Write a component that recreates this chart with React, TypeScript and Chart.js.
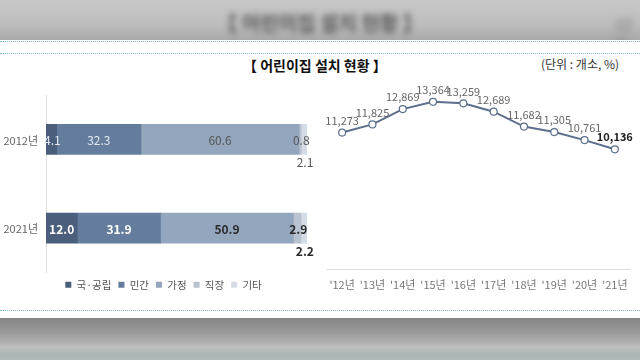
import React, { useEffect, useRef } from "react";
import { Chart, registerables } from "chart.js";

Chart.register(...registerables);

const FONT = "'Noto Sans CJK KR', 'Noto Sans', sans-serif";

// Left: share by type (%)
const barCategories = ["2012년", "2021년"];
const seriesNames = ["국·공립", "민간", "가정", "직장", "기타"];
const publicShare = [4.1, 12.0];
const privateShare = [32.3, 31.9];
const homeShare = [60.6, 50.9];
const workplaceShare = [0.8, 2.9];
const otherShare = [2.1, 2.2];
const seriesColors = ["#4b5f7c", "#647d9c", "#94a6bd", "#b8c2d1", "#d6dce6"];

// Right: number of centers
const yearLabels = ["'12년", "'13년", "'14년", "'15년", "'16년", "'17년", "'18년", "'19년", "'20년", "'21년"];
const centerCounts = [11273, 11825, 12869, 13364, 13259, 12689, 11682, 11305, 10761, 10136];

const fmt = (v: number) => v.toLocaleString("en-US");

function BarChart() {
  const ref = useRef<HTMLCanvasElement>(null);
  useEffect(() => {
    const shares = [publicShare, privateShare, homeShare, workplaceShare, otherShare];
    const labelPlugin = {
      id: "barLabels",
      afterDatasetsDraw(chart: any) {
        const ctx = chart.ctx;
        ctx.save();
        ctx.textAlign = "center";
        ctx.textBaseline = "middle";
        chart.data.datasets.forEach((ds: any, di: number) => {
          const meta = chart.getDatasetMeta(di);
          meta.data.forEach((bar: any, i: number) => {
            const v = ds.data[i] as number;
            const bold = i === 1;
            ctx.font = `${bold ? "bold " : ""}12px ${FONT}`;
            let color: string;
            if (di <= 1) color = bold ? "#ffffff" : "#e4e9f0";
            else color = bold ? "#2b2b2b" : "#555555";
            ctx.fillStyle = color;
            const cx = (bar.x + bar.base) / 2;
            if (di === 4) {
              ctx.fillText(v.toFixed(1), cx + 1, bar.y + bar.height / 2 + 8);
            } else {
              ctx.fillText(v.toFixed(1), cx + (di === 3 ? 1 : 0) + (di === 0 && !bold ? 1 : 0), bar.y + 1);
            }
          });
        });
        // category labels, placed through the y scale
        const yScale = chart.scales.y;
        ctx.textAlign = "right";
        ctx.font = `11px ${FONT}`;
        ctx.fillStyle = "#666666";
        chart.data.labels.forEach((lab: string, i: number) => {
          ctx.fillText(lab, chart.chartArea.left - 8, yScale.getPixelForValue(i) + 1);
        });
        ctx.restore();
      },
    };
    const chart = new Chart(ref.current!, {
      type: "bar",
      data: {
        labels: barCategories,
        datasets: seriesNames.map((name, k) => ({
          label: name,
          data: shares[k],
          backgroundColor: seriesColors[k],
          borderWidth: 0,
          barThickness: 30,
        })),
      },
      options: {
        indexAxis: "y",
        responsive: false,
        animation: false,
        devicePixelRatio: 1,
        layout: { padding: { top: 15, right: 19, bottom: 0, left: 20 } },
        scales: {
          x: { stacked: true, min: 0, max: 100, display: false },
          y: {
            stacked: true,
            grid: { display: false, drawTicks: false },
            border: { display: true, color: "#dddddd", width: 1 },
            ticks: { display: false },
            afterFit: (s: any) => { s.width = 26; },
          },
        },
        plugins: {
          legend: {
            position: "bottom",
            labels: {
              boxWidth: 6,
              boxHeight: 6,
              padding: 7,
              color: "#555555",
              font: { family: FONT, size: 10.5 },
            },
          },
          tooltip: { enabled: false },
        },
      },
      plugins: [labelPlugin],
    } as any);
    return () => chart.destroy();
  }, []);
  return <canvas ref={ref} width={326} height={220} style={{ position: "absolute", left: 0, top: 80 }} />;
}

function LineChart() {
  const ref = useRef<HTMLCanvasElement>(null);
  useEffect(() => {
    const labelPlugin = {
      id: "pointLabels",
      afterDatasetsDraw(chart: any) {
        const ctx = chart.ctx;
        ctx.save();
        ctx.textAlign = "center";
        ctx.textBaseline = "middle";
        const meta = chart.getDatasetMeta(0);
        meta.data.forEach((pt: any, i: number) => {
          const last = i === centerCounts.length - 1;
          ctx.font = `${last ? "bold " : ""}11px ${FONT}`;
          ctx.fillStyle = last ? "#222222" : "#666666";
          ctx.fillText(fmt(centerCounts[i]), pt.x, pt.y - 12);
        });
        ctx.restore();
      },
    };
    const chart = new Chart(ref.current!, {
      type: "line",
      data: {
        labels: yearLabels,
        datasets: [
          {
            label: "어린이집 수",
            data: centerCounts,
            borderColor: "#5b6f8c",
            borderWidth: 2,
            pointBackgroundColor: "#ffffff",
            pointBorderColor: "#5b6f8c",
            pointBorderWidth: 1.2,
            pointRadius: 3.5,
            tension: 0,
          },
        ],
      },
      options: {
        responsive: false,
        animation: false,
        devicePixelRatio: 1,
        layout: { padding: { top: 10, right: 10, bottom: 0, left: 7 } },
        scales: {
          x: {
            offset: true,
            grid: { display: false, drawTicks: false },
            border: { display: true, color: "#dddddd", width: 1 },
            ticks: {
              color: "#777777",
              font: { family: FONT, size: 11 },
              padding: 9,
              maxRotation: 0,
              minRotation: 0,
              autoSkip: false,
            },
            afterFit: (s: any) => { s.height = 31; },
          },
          y: { display: false, min: 2000, max: 16000 },
        },
        plugins: { legend: { display: false }, tooltip: { enabled: false } },
      },
      plugins: [labelPlugin],
    } as any);
    return () => chart.destroy();
  }, []);
  return <canvas ref={ref} width={320} height={247} style={{ position: "absolute", left: 320, top: 53 }} />;
}

export default function App() {
  useEffect(() => {
    document.body.style.margin = "0";
  }, []);
  const dotted = (top: number) => (
    <div style={{ position: "absolute", left: 0, top, width: 640, height: 0, borderTop: "1px dotted #7dbfc0" }} />
  );
  return (
    <div style={{ position: "fixed", left: 0, top: 0, width: 640, height: 360, overflow: "hidden", fontFamily: FONT }}>
      {/* blurred background header */}
      <div style={{ position: "absolute", left: 0, top: 0, width: 640, height: 40, background: "linear-gradient(#c8c8c8, #bdbdbd 60%, #a9a9a9)" }} />
      <div style={{ position: "absolute", left: 0, top: 8, width: 640, textAlign: "center", fontSize: 20, fontWeight: "bold", color: "#555", filter: "blur(3px)" }}>
        【 어린이집 설치 현황 】
      </div>
      <div style={{ position: "absolute", left: 615, top: 14, fontSize: 14, color: "#777", filter: "blur(3px)" }}>(단위</div>
      {/* blurred background footer */}
      <div style={{ position: "absolute", left: 0, top: 318, width: 640, height: 42, background: "linear-gradient(#858585, #9a9a9a 35%, #bdbdbd 70%, #aab6b6 90%, #b4bcbc)" }} />
      {/* white panel */}
      <div style={{ position: "absolute", left: 0, top: 40, width: 640, height: 278, background: "#ffffff" }} />
      {dotted(41)}
      {dotted(53)}
      {dotted(310)}
      <div style={{ position: "absolute", left: 243, top: 55, width: 140, textAlign: "center", fontSize: 14, fontWeight: "bold", color: "#111", whiteSpace: "nowrap" }}>
        【 어린이집 설치 현황 】
      </div>
      <div style={{ position: "absolute", left: 541, top: 55, fontSize: 12, color: "#333", whiteSpace: "nowrap" }}>
        (단위 : 개소, %)
      </div>
      <BarChart />
      <LineChart />
    </div>
  );
}
